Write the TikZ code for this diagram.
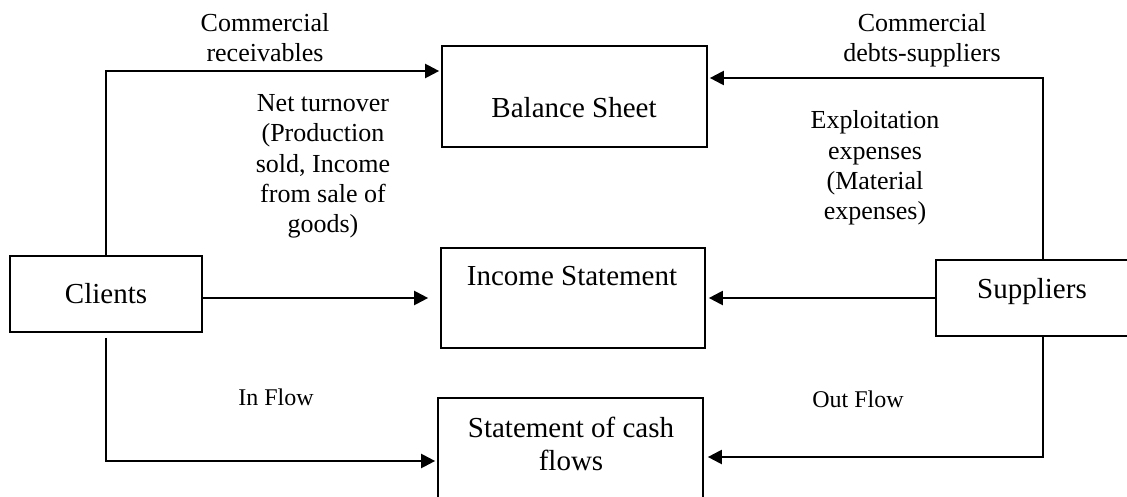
\documentclass[tikz,border=0pt]{standalone}
\usepackage{fontspec}
\setmainfont{Liberation Serif}
\usetikzlibrary{arrows.meta}
\begin{document}
\begin{tikzpicture}[x=1pt,y=-1pt,
 box/.style={draw,line width=1.7pt,inner sep=0pt,rectangle},
 conn/.style={line width=2.2pt},
 arr/.style={conn,-{Triangle[length=14pt,width=14pt]}},
 boxtxt/.style={font=\fontsize{29}{33}\selectfont,align=center,anchor=base,inner sep=0pt},
 lbl/.style={font=\fontsize{26}{30.4}\selectfont,align=center,anchor=base,inner sep=0pt},
 flow/.style={font=\fontsize{24}{28}\selectfont,anchor=base,inner sep=0pt}]
\useasboundingbox (0,0) rectangle (1127,497);
\clip (0,0) rectangle (1127,497);
\fill[white] (0,0) rectangle (1127,497);
% boxes
\node[box,minimum width=265pt,minimum height=101pt] (bs) at (574.5,96.5) {};
\node[box,minimum width=264pt,minimum height=100pt] (is) at (573,298) {};
\node[box,minimum width=265pt,minimum height=142pt] (cf) at (570.5,469) {};
\node[box,minimum width=192pt,minimum height=76pt] (cl) at (106,294) {};
\node[box,minimum width=214pt,minimum height=76pt] (su) at (1043,298) {};
% box texts (anchor = baseline of last line)
\node[boxtxt] (tbs) at (574,118) {Balance Sheet};
\node[boxtxt] (tis) at (572,285) {Income Statement};
\node[boxtxt] (tcf) at (571,470) {Statement of cash\\flows};
\node[boxtxt] (tcl) at (106,303) {Clients};
\node[boxtxt] (tsu) at (1032,298) {Suppliers};
% connectors
\coordinate (c1) at (106,71);
\draw[arr,shorten >=2pt] (cl.north) -- (c1) -- (c1 -| bs.west);
\draw[arr,shorten >=12pt] (cl.east |- is.west) -- (is.west);
\coordinate (c3) at (106,461);
\draw[arr,shorten >=2pt] ([yshift=-5pt]cl.south) -- (c3) -- (c3 -| cf.west);
\coordinate (s1) at (1043,78);
\draw[arr,shorten >=2pt] (su.north) -- (s1) -- (s1 -| bs.east);
\draw[arr,shorten >=3pt] (su.west) -- (is.east);
\coordinate (s3) at (1043,457);
\draw[arr,shorten >=4pt] (su.south) -- (s3) -- (s3 -| cf.east);
% labels
\node[lbl] (lcr) at (265,62) {Commercial\\receivables};
\node[lbl] (lcd) at (922,62) {Commercial\\debts-suppliers};
\node[lbl] (lnt) at (323,233) {Net turnover\\(Production\\sold, Income\\from sale of\\goods)};
\node[lbl] (lex) at (875,220) {Exploitation\\expenses\\(Material\\expenses)};
\node[flow] (lin) at (276,405) {In Flow};
\node[flow] (lout) at (858,407) {Out Flow};
\end{tikzpicture}
\end{document}
